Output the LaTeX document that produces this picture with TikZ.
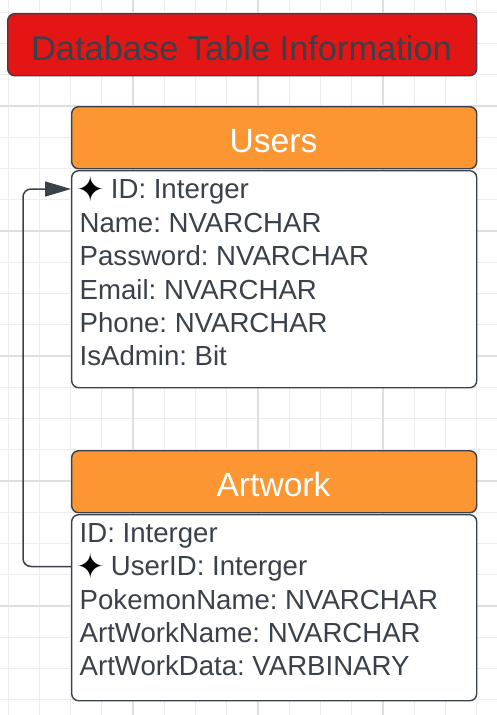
\documentclass[tikz,border=0pt]{standalone}
\usepackage{fontspec}
\setmainfont{Liberation Sans}
\newfontfamily\starfont{DejaVu Sans}
\usetikzlibrary{arrows.meta}
\definecolor{ink}{HTML}{3A414A}
\definecolor{titlered}{HTML}{E31515}
\definecolor{hdrorange}{HTML}{FB9633}
\definecolor{gridminor}{HTML}{EDEDED}
\definecolor{gridmajor}{HTML}{DEDEDE}
\frenchspacing
\begin{document}
\begin{tikzpicture}[x=1pt,y=-1pt,
  box/.style={draw=ink, line width=1.4pt, rounded corners=7pt, inner sep=0pt, anchor=north west},
  field/.style={anchor=base west, inner sep=0pt, text=ink, font=\fontsize{27.6}{30}\selectfont},
  keystar/.style={inner sep=0pt, text=black, font=\starfont\fontsize{34}{34}\selectfont},
  hdrtext/.style={anchor=base, inner sep=0pt, text=white, font=\fontsize{33.6}{36}\selectfont},
  titletext/.style={anchor=base, inner sep=0pt, text=ink, font=\fontsize{34.4}{36}\selectfont},
  conn/.style={draw=ink, line width=1.5pt, rounded corners=8pt, -{Triangle[length=26pt,width=15pt]}},
  minorline/.style={draw=gridminor, line width=1pt},
  majorline/.style={draw=gridmajor, line width=2pt}
]
\useasboundingbox (0,0) rectangle (497,715);
\fill[white] (0,0) rectangle (497,715);
% grid
\foreach \i in {0,...,15} \draw[minorline] ({8+31.25*\i},0) -- ({8+31.25*\i},715);
\foreach \j in {0,...,22} \draw[minorline] (0,{12.25+31.25*\j}) -- (497,{12.25+31.25*\j});
\foreach \x in {133,258,383} \draw[majorline] (\x,0) -- (\x,715);
\foreach \y in {106,231,356,481,606} \draw[majorline] (0,\y) -- (497,\y);

% title
\node[box, fill=titlered, minimum width=469pt, minimum height=62pt] (title) at (7,13) {};
\node[titletext] (titleText) at (241.5,60) {Database Table Information};

% Users table
\node[box, fill=hdrorange, minimum width=405pt, minimum height=62pt] (usersHead) at (71,106) {};
\node[hdrtext] (usersName) at (273.5,152.3) {Users};
\node[box, fill=white, minimum width=405pt, minimum height=217pt] (usersBody) at (71,170) {};
\node[keystar] (uStar) at (90.5,189) {✦};
\node[field] (u1) at (110.7,198.8) {ID: Interger};
\node[field] (u2) at (79.5,232.2) {Name: NVARCHAR};
\node[field] (u3) at (79.5,265.6) {Password: NVARCHAR};
\node[field] (u4) at (79.5,299.0) {Email: NVARCHAR};
\node[field] (u5) at (79.5,332.4) {Phone: NVARCHAR};
\node[field] (u6) at (79.5,365.8) {IsAdmin: Bit};

% Artwork table
\node[box, fill=hdrorange, minimum width=405pt, minimum height=62pt] (artHead) at (71,450) {};
\node[hdrtext] (artName) at (273.5,496.7) {Artwork};
\node[box, fill=white, minimum width=405pt, minimum height=186pt] (artBody) at (71,514) {};
\node[field] (a1) at (79.5,542.3) {ID: Interger};
\node[keystar] (aStar) at (90.5,566.5) {✦};
\node[field] (a2) at (110.7,575.7) {UserID: Interger};
\node[field] (a3) at (79.5,609.1) {PokemonName: NVARCHAR};
\node[field] (a4) at (79.5,642.5) {ArtWorkName: NVARCHAR};
\node[field] (a5) at (79.5,675.9) {ArtWorkData: VARBINARY};

% connector
\draw[conn] (artBody.west |- aStar) -- ++(-48,0) |- (usersBody.west |- uStar);
\end{tikzpicture}
\end{document}
